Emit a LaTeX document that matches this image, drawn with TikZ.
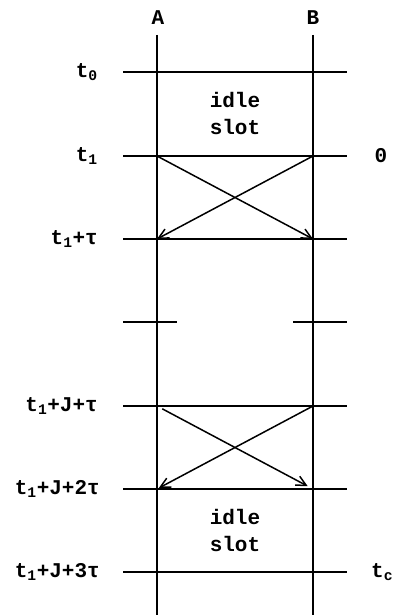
\documentclass[tikz,border=0pt]{standalone}
\usepackage{fontspec}
\setmainfont{Liberation Mono}
\usetikzlibrary{arrows.meta,calc,positioning}

\begin{document}
\begin{tikzpicture}[
  x=1pt,y=-1pt,
  font=\fontsize{21}{27}\selectfont\bfseries,
  lane/.style={draw=black, line width=2.4pt},
  level/.style={draw=black, line width=1.8pt},
  signal/.style={-{Straight Barb[length=10pt,width=10pt]}, draw=black,
                 line width=1.5pt},
  tlabel/.style={anchor=east, inner sep=0pt},
  slotnote/.style={align=center, inner sep=0pt}
]
\useasboundingbox (0,0) rectangle (401,615);

% Station labels and the two time lanes.
\node[inner sep=0pt] (labA) at (158,18) {A};
\node[inner sep=0pt] (labB) at (313,18) {B};
\coordinate (topA) at (157,35);
\coordinate (botA) at (157,615);
\coordinate (topB) at (313,35);
\coordinate (botB) at (313,615);
\draw[lane] (topA) -- (botA);
\draw[lane] (topB) -- (botB);

% Time levels across both lanes.
\foreach \name/\y in {tz/72, to/156, tt/239, ja/406, jb/489, jc/572} {
  \coordinate (\name L) at (123,\y);
  \coordinate (\name A) at (157,\y);
  \coordinate (\name B) at (313,\y);
  \coordinate (\name R) at (347,\y);
  \draw[level] (\name L) -- (\name R);
}

% Broken level marks the elapsed interval J.
\coordinate (gapL) at (123,322);
\coordinate (gapA) at (177,322);
\coordinate (gapB) at (293,322);
\coordinate (gapR) at (347,322);
\draw[level] (gapL) -- (gapA);
\draw[level] (gapB) -- (gapR);

% Time labels.
\node[tlabel] (ltz) at (98,72) {t\textsubscript{0}};
\node[tlabel] (lto) at (98,156) {t\textsubscript{1}};
\node[tlabel] (ltt) at (98,239) {t\textsubscript{1}+τ};
\node[tlabel] (lja) at (98,406) {t\textsubscript{1}+J+τ};
\node[tlabel] (ljb) at (100,489) {t\textsubscript{1}+J+2τ};
\node[tlabel] (ljc) at (100,572) {t\textsubscript{1}+J+3τ};
\node[inner sep=0pt] (lzero) at (381,156) {0};
\node[anchor=west, inner sep=0pt] (ltc) at (371,572) {t\textsubscript{c}};

% Idle slots.
\node[slotnote] (idleup) at (235,113) {idle\\slot};
\node[slotnote] (idledn) at (235,530) {idle\\slot};

% Crossing transmissions.
\draw[signal] (toA) -- (ttB);
\draw[signal] (toB) -- (ttA);
\draw[signal, shorten <=6pt, shorten >=6pt] (jaA) -- (jbB);
\draw[signal, shorten >=2pt] (jaB) -- (jbA);

\end{tikzpicture}
\end{document}
